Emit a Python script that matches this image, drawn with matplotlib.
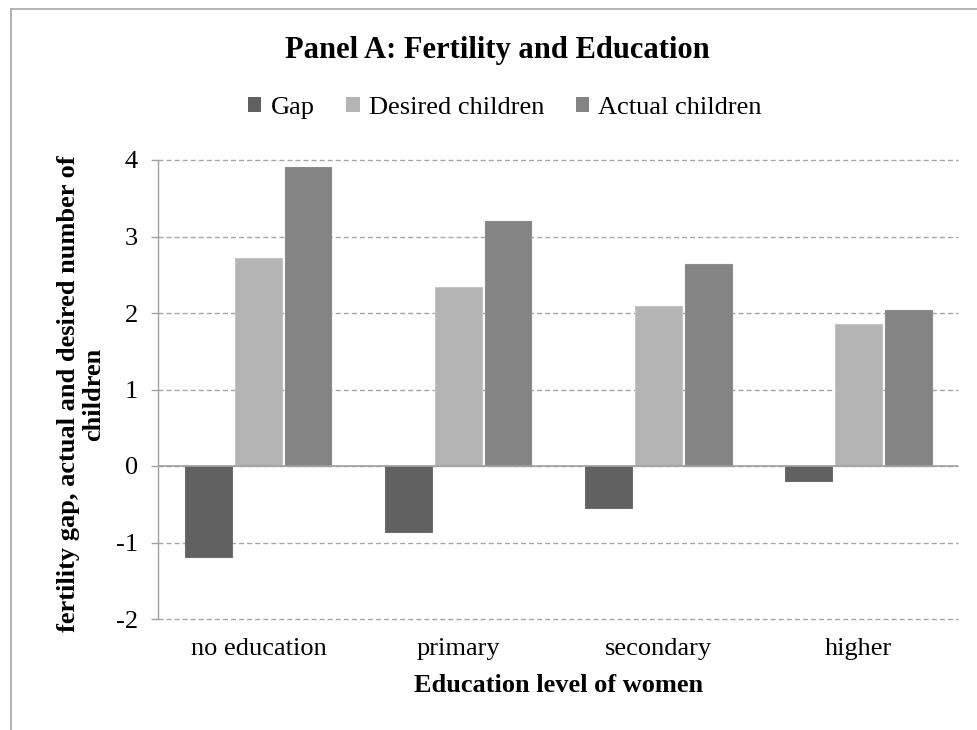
import matplotlib
matplotlib.use("Agg")
import matplotlib.pyplot as plt
import numpy as np
from matplotlib.lines import Line2D
from matplotlib.patches import Patch

# Fertility by education level of women
categories = ["no education", "primary", "secondary", "higher"]
desired = [2.72, 2.34, 2.09, 1.85]
actual = [3.91, 3.20, 2.64, 2.04]
gap = [-1.19, -0.86, -0.55, -0.19]

series_names = ["Gap", "Desired children", "Actual children"]
series_colors = ["#616161", "#b4b4b4", "#848484"]
edge_colors = ["#6e6e6e", "#c4c4c4", "#8c8c8c"]
y_ticks = [-2, -1, 0, 1, 2, 3, 4]

plt.rcParams["font.family"] = ["Liberation Serif", "DejaVu Serif"]

W, H = 978, 730
fig = plt.figure(figsize=(W / 100, H / 100), dpi=100)
ax = fig.add_axes([158.5 / W, 1 - 619 / H, 800 / W, (619 - 160) / H])

x = np.arange(len(categories))
offsets = [-0.249, 0.0, 0.249]
bar_w = 0.232
for vals, off, col, ec in zip([gap, desired, actual], offsets, series_colors, edge_colors):
    ax.bar(x + off, vals, width=bar_w, color=col, edgecolor=ec, linewidth=0.8, zorder=3)

ax.set_xlim(-0.5, len(categories) - 0.5)
ax.set_ylim(-2, 4)
ax.set_yticks(y_ticks)
ax.set_yticklabels([str(t) for t in y_ticks])
ax.set_xticks(x)
ax.set_xticklabels(categories)

grid_col = "#a6a6a6"
ax.yaxis.grid(True, color=grid_col, linewidth=1.0, linestyle=(0, (3.6, 2.2)), zorder=0)
for gl in ax.get_ygridlines():
    gl.set_clip_on(False)
ax.axhline(0, color="#a0a0a0", linewidth=1.2, zorder=4)

for s in ["top", "right", "bottom"]:
    ax.spines[s].set_visible(False)
ax.spines["left"].set_color("#a0a0a0")
ax.spines["left"].set_linewidth(1.0)

ax.tick_params(axis="y", length=5, width=1.0, color="#a0a0a0", pad=10,
               labelsize=19, labelcolor="black")
ax.tick_params(axis="x", length=0, pad=14, labelsize=19, labelcolor="black")

ax.set_xlabel("Education level of women", fontsize=19, fontweight="bold", labelpad=10)
ax.set_ylabel("fertility gap, actual and desired number of\nchildren",
              fontsize=19, fontweight="bold", linespacing=1.1)
ax.yaxis.set_label_coords(-0.067, 0.49)

fig.text(497 / W, 1 - 58.3 / H, "Panel A: Fertility and Education",
         fontsize=22, fontweight="bold", ha="center", va="baseline")

handles = [Patch(facecolor=c, edgecolor="none") for c in series_colors]
fig.legend(handles, series_names, loc="center", bbox_to_anchor=(505 / W, 1 - 108 / H),
           ncol=3, frameon=False, fontsize=19, handlelength=0.5, handleheight=0.5,
           handletextpad=0.35, columnspacing=1.2, borderpad=0, borderaxespad=0)

# chart area border
frame_col = "#a6a6a6"
fig.add_artist(Line2D([11.5 / W, 11.5 / W], [0, 1 - 9 / H], transform=fig.transFigure,
                      color=frame_col, linewidth=1.2))
fig.add_artist(Line2D([11.5 / W, 1.0], [1 - 9 / H, 1 - 9 / H], transform=fig.transFigure,
                      color=frame_col, linewidth=1.2))

fig.savefig("out.png", dpi=100, facecolor="white")
